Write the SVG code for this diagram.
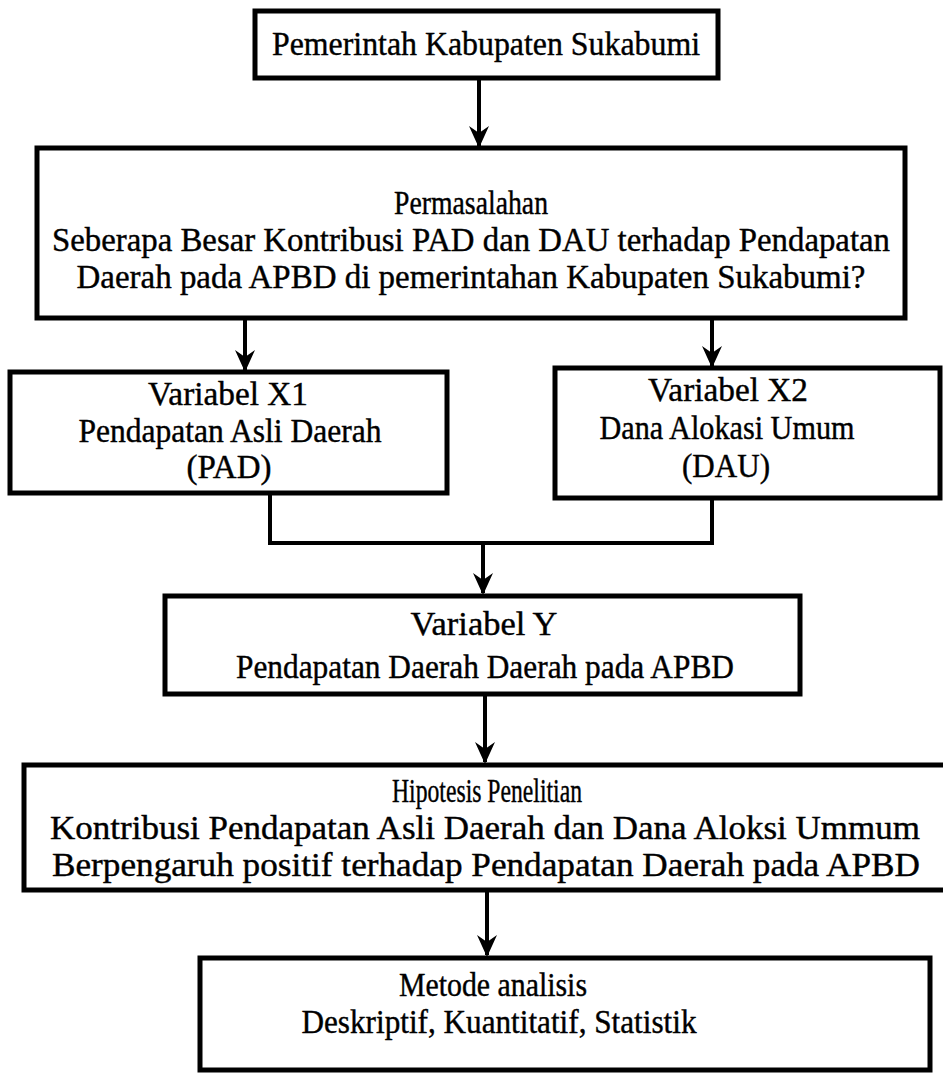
<svg xmlns="http://www.w3.org/2000/svg" width="943" height="1073" viewBox="0 0 943 1073">
<defs>
<style>
.box{fill:#fff;stroke:#000;stroke-width:5}
.t{font-family:"Liberation Serif","Times New Roman",serif;font-size:33px;fill:#000;stroke:#000;stroke-width:0.4;text-anchor:middle}
.c{fill:none;stroke:#000;stroke-width:4}
</style>
<marker id="ah" viewBox="0 0 22 20" refX="20" refY="10" markerWidth="22" markerHeight="20" markerUnits="userSpaceOnUse" orient="auto">
<path d="M0,0 L22,10 L0,20 L7,10 Z" fill="#000"/>
</marker>
</defs>
<rect width="943" height="1073" fill="#fff"/>
<g id="connectors">
<line class="c" x1="479" y1="80" x2="479" y2="146" marker-end="url(#ah)"/>
<line class="c" x1="245" y1="320" x2="245" y2="370" marker-end="url(#ah)"/>
<line class="c" x1="712" y1="320" x2="712" y2="366" marker-end="url(#ah)"/>
<path class="c" d="M270,495 V543 H712 V500"/>
<line class="c" x1="483" y1="543" x2="483" y2="593" marker-end="url(#ah)"/>
<line class="c" x1="485" y1="696" x2="485" y2="762" marker-end="url(#ah)"/>
<line class="c" x1="487" y1="892" x2="487" y2="955" marker-end="url(#ah)"/>
</g>
<g id="pemerintah">
<rect class="box" x="255" y="11" width="463" height="67"/>
<text class="t" x="486" y="55" textLength="428" lengthAdjust="spacingAndGlyphs">Pemerintah Kabupaten Sukabumi</text>
</g>
<g id="permasalahan">
<rect class="box" x="37" y="148" width="868" height="170"/>
<text class="t" x="471" y="214" textLength="154" lengthAdjust="spacingAndGlyphs">Permasalahan</text>
<text class="t" x="471" y="251" textLength="838" lengthAdjust="spacingAndGlyphs">Seberapa Besar Kontribusi PAD dan DAU terhadap Pendapatan</text>
<text class="t" x="471" y="288" textLength="789" lengthAdjust="spacingAndGlyphs">Daerah pada APBD di pemerintahan Kabupaten Sukabumi?</text>
</g>
<g id="x1">
<rect class="box" x="10" y="372" width="437" height="121"/>
<text class="t" x="228" y="405" textLength="160" lengthAdjust="spacingAndGlyphs">Variabel X1</text>
<text class="t" x="230" y="442" textLength="303" lengthAdjust="spacingAndGlyphs">Pendapatan Asli Daerah</text>
<text class="t" x="229" y="478" textLength="85" lengthAdjust="spacingAndGlyphs">(PAD)</text>
</g>
<g id="x2">
<rect class="box" x="555" y="368" width="385" height="130"/>
<text class="t" x="728" y="401" textLength="160" lengthAdjust="spacingAndGlyphs">Variabel X2</text>
<text class="t" x="727" y="439" textLength="255" lengthAdjust="spacingAndGlyphs">Dana Alokasi Umum</text>
<text class="t" x="726" y="477" textLength="88" lengthAdjust="spacingAndGlyphs">(DAU)</text>
</g>
<g id="y">
<rect class="box" x="165" y="596" width="635" height="98"/>
<text class="t" x="484" y="635" textLength="147" lengthAdjust="spacingAndGlyphs">Variabel Y</text>
<text class="t" x="485" y="678" textLength="498" lengthAdjust="spacingAndGlyphs">Pendapatan Daerah Daerah pada APBD</text>
</g>
<g id="hipotesis">
<rect class="box" x="24" y="765" width="930" height="125"/>
<text class="t" x="487" y="802" textLength="190" lengthAdjust="spacingAndGlyphs">Hipotesis Penelitian</text>
<text class="t" x="485" y="839" textLength="870" lengthAdjust="spacingAndGlyphs">Kontribusi Pendapatan Asli Daerah dan Dana Aloksi Ummum</text>
<text class="t" x="486" y="876" textLength="868" lengthAdjust="spacingAndGlyphs">Berpengaruh positif terhadap Pendapatan Daerah pada APBD</text>
</g>
<g id="metode">
<rect class="box" x="200" y="958" width="730" height="112"/>
<text class="t" x="493" y="996" textLength="188" lengthAdjust="spacingAndGlyphs">Metode analisis</text>
<text class="t" x="499" y="1033" textLength="395" lengthAdjust="spacingAndGlyphs">Deskriptif, Kuantitatif, Statistik</text>
</g>
</svg>
